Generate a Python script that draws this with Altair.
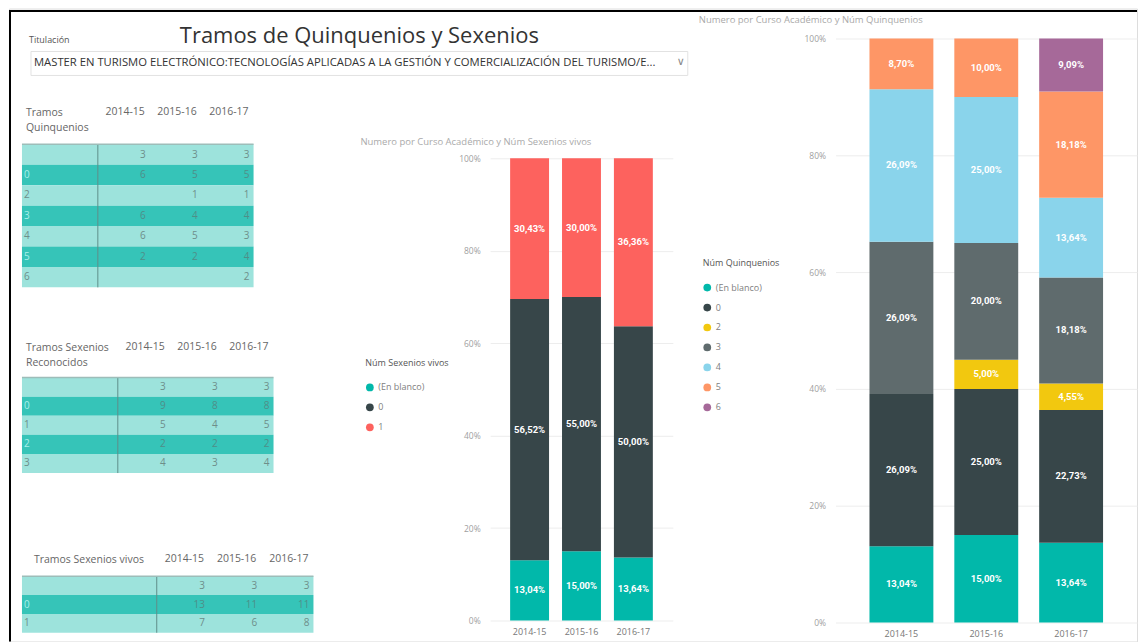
import altair as alt
import pandas as pd

years = ["2014-15", "2015-16", "2016-17"]

# Tramos Quinquenios (table + right chart)
quin_rows = ["", "0", "2", "3", "4", "5", "6"]
quin_legend = ["(En blanco)", "0", "2", "3", "4", "5", "6"]
quin_blank = [3, 3, 3]
quin_0 = [6, 5, 5]
quin_2 = [None, 1, 1]
quin_3 = [6, 4, 4]
quin_4 = [6, 5, 3]
quin_5 = [2, 2, 4]
quin_6 = [None, None, 2]
quin_series = [quin_blank, quin_0, quin_2, quin_3, quin_4, quin_5, quin_6]
quin_colors = ["#01B8AA", "#374649", "#F2C80F", "#5F6B6D", "#8AD4EB", "#FE9666", "#A66999"]

# Tramos Sexenios Reconocidos (table)
srec_rows = ["", "0", "1", "2", "3"]
srec_blank = [3, 3, 3]
srec_0 = [9, 8, 8]
srec_1 = [5, 4, 5]
srec_2 = [2, 2, 2]
srec_3 = [4, 3, 4]
srec_series = [srec_blank, srec_0, srec_1, srec_2, srec_3]

# Tramos Sexenios vivos (table + middle chart)
sviv_rows = ["", "0", "1"]
sviv_legend = ["(En blanco)", "0", "1"]
sviv_blank = [3, 3, 3]
sviv_0 = [13, 11, 11]
sviv_1 = [7, 6, 8]
sviv_series = [sviv_blank, sviv_0, sviv_1]
sviv_colors = ["#01B8AA", "#374649", "#FD625E"]

H = 634
W = 1130
FONT = "Open Sans"
LIGHT = "#9DE3DC"
DARK = "#36C4B8"


def label(text, x, y, size=10, color="#555555", align="left", weight="normal", font=FONT):
    return alt.Chart(pd.DataFrame({"t": [text]})).mark_text(
        align=align, baseline="middle", fontSize=size, color=color,
        fontWeight=weight, font=font
    ).encode(x=alt.value(x), y=alt.value(y), text="t:N")


def table(row_labels, series, left, sep, right, top, bottom, head_lines, head_x, head_y):
    n = len(row_labels)
    colw = (right - sep) / 3.0
    rows = pd.DataFrame({"r": list(range(n)), "lab": row_labels,
                         "stripe": [i % 2 for i in range(n)]})
    cells = pd.DataFrame([
        {"r": i, "year": yr, "v": str(v), "stripe": i % 2}
        for i, s in enumerate(series) for yr, v in zip(years, s) if v is not None
    ])
    yenc = alt.Y("r:O", scale=alt.Scale(type="band", domain=list(range(n)), range=[top, bottom],
                                         paddingInner=0, paddingOuter=0), axis=None)
    xenc = alt.X("year:N", scale=alt.Scale(type="band", domain=years, range=[sep, right],
                                            paddingInner=0, paddingOuter=0), axis=None)
    one = pd.DataFrame({"k": [0]})
    stripes = alt.Chart(rows).mark_rect().encode(
        y=yenc, x=alt.value(left), x2=alt.value(right),
        color=alt.condition("datum.stripe == 1", alt.value(DARK), alt.value(LIGHT)),
    )
    sepline = alt.Chart(one).mark_rule(color="#5F8F8A", strokeWidth=1).encode(
        x=alt.value(sep), y=alt.value(top), y2=alt.value(bottom))
    topline = alt.Chart(one).mark_rule(color="#9DBDB9", strokeWidth=1.5).encode(
        x=alt.value(left), x2=alt.value(right), y=alt.value(top))
    labs = alt.Chart(rows).mark_text(align="left", baseline="middle", fontSize=10, font=FONT).encode(
        y=yenc, x=alt.value(left + 2), text="lab:N",
        color=alt.condition("datum.stripe == 1", alt.value("#A9EFE9"), alt.value("#6E8E8A")),
    )
    vals = alt.Chart(cells).mark_text(align="right", baseline="middle", fontSize=10,
                                      dx=colw / 2 - 4, font=FONT).encode(
        y=yenc, x=xenc, text="v:N",
        color=alt.condition("datum.stripe == 1", alt.value("#4F8E88"), alt.value("#6E8E8A")),
    )
    heads = alt.Chart(pd.DataFrame({"year": years})).mark_text(
        align="right", baseline="middle", fontSize=10.5, dx=colw / 2 - 5, color="#666666", font=FONT
    ).encode(x=xenc, y=alt.value(head_y), text="year:N")
    rowhead = alt.Chart(one).mark_text(
        align="left", baseline="alphabetic", fontSize=10.5, lineHeight=15, color="#666666", font=FONT
    ).encode(x=alt.value(head_x), y=alt.value(head_y + 4), text=alt.value(head_lines))
    return [stripes, sepline, topline, labs, vals, heads, rowhead]


def bar_frame(cats, series):
    recs = []
    for k, (c, s) in enumerate(zip(cats, series)):
        for yr, v in zip(years, s):
            recs.append({"year": yr, "cat": c, "ord": k, "n": v or 0})
    return pd.DataFrame(recs)


def stacked(cats, series, colors, xr, yr, pi, po, legend_title, lx, ly):
    df = bar_frame(cats, series)
    base = alt.Chart(df).transform_filter("datum.n > 0").transform_joinaggregate(
        total="sum(n)", groupby=["year"]
    ).transform_calculate(pct="datum.n / datum.total").transform_stack(
        stack="pct", groupby=["year"], as_=["y0", "y1"],
        sort=[alt.SortField("ord", order="ascending")]
    ).transform_calculate(
        mid="(datum.y0 + datum.y1) / 2",
        lab="replace(format(datum.pct, '.2%'), '.', ',')",
    )
    xscale = alt.Scale(type="band", domain=years, range=xr, paddingInner=pi, paddingOuter=po)
    yscale = alt.Scale(domain=[0, 1], range=yr, nice=False, zero=True)
    bars = base.mark_bar().encode(
        x=alt.X("year:N", scale=xscale, title=None, axis=alt.Axis(
            orient="bottom", offset=yr[0] - H, domain=False, ticks=False, labelAngle=0,
            labelColor="#777777", labelFontSize=9, labelPadding=7, labelFont=FONT, zindex=2)),
        y=alt.Y("y0:Q", scale=yscale, title=None, axis=alt.Axis(
            orient="left", offset=-xr[0], format=".0%", values=[0, 0.2, 0.4, 0.6, 0.8, 1.0],
            grid=True, gridColor="#EDEDED", domain=False, ticks=False,
            labelColor="#A0A0A0", labelFontSize=8.5, labelPadding=10, labelFont=FONT)),
        y2="y1:Q",
        color=alt.Color("cat:N", sort=cats, scale=alt.Scale(domain=cats, range=colors),
                        legend=alt.Legend(
                            orient="none", legendX=lx, legendY=ly, title=legend_title,
                            titleFontSize=9, titleColor="#555555", titleFont=FONT,
                            titleFontWeight="normal", titlePadding=15,
                            labelFontSize=9, labelColor="#808080", labelFont=FONT,
                            symbolType="circle", symbolSize=60, rowPadding=10,
                            symbolStrokeWidth=0)),
    )
    texts = base.mark_text(color="white", fontWeight="bold", fontSize=9.5, font="Roboto",
                           align="center", baseline="middle").encode(
        x=alt.X("year:N", scale=xscale, axis=None),
        y=alt.Y("mid:Q", scale=yscale, axis=None),
        text="lab:N",
    )
    return [bars, texts]


one = pd.DataFrame({"k": [0]})
frame_top = alt.Chart(one).mark_rule(color="black", strokeWidth=2).encode(
    x=alt.value(0), x2=alt.value(W), y=alt.value(2.5))
frame_left = alt.Chart(one).mark_rule(color="black", strokeWidth=2).encode(
    x=alt.value(1), y=alt.value(2), y2=alt.value(H))
dropdown = alt.Chart(one).mark_rect(fill="white", stroke="#E2E2E2", strokeWidth=1).encode(
    x=alt.value(22), x2=alt.value(680), y=alt.value(43), y2=alt.value(67))

layers = [
    frame_top, frame_left, dropdown,
    label("Titulación", 20, 32, size=9, color="#555555"),
    label("Tramos de Quinquenios y Sexenios", 351, 27, size=22, color="#333333", align="center"),
    label("MASTER EN TURISMO ELECTRÓNICO:TECNOLOGÍAS APLICADAS A LA GESTIÓN Y COMERCIALIZACIÓN DEL TURISMO/E...",
          25, 55, size=11.3, color="#333333"),
    label("∨", 669, 54, size=11, color="#888888", font="DejaVu Sans"),
    label("Numero por Curso Académico y Núm Sexenios vivos", 352, 134, size=9.5, color="#AAAAAA"),
    label("Numero por Curso Académico y Núm Quinquenios", 691, 11, size=9.5, color="#AAAAAA"),
]
layers += table(quin_rows, quin_series, 13, 89, 245, 136, 279.3, ["Tramos", "Quinquenios"], 17, 104)
layers += table(srec_rows, srec_series, 13, 109, 265, 369.7, 465.3, ["Tramos Sexenios", "Reconocidos"], 17, 339)
layers += table(sviv_rows, sviv_series, 13, 148, 305, 568.7, 625.3, ["Tramos Sexenios vivos"], 25, 551)
layers += stacked(sviv_legend, sviv_series, sviv_colors, [482, 665], [613, 150], 0.25, 0.385,
                  "Núm Sexenios vivos", 357, 351)
layers += stacked(quin_legend, quin_series, quin_colors, [828, 1130], [615, 30], 0.247, 0.4,
                  "Núm Quinquenios", 695, 251)

chart = alt.layer(*layers).resolve_scale(
    x="independent", y="independent", color="independent"
).properties(width=W, height=H, padding=0).configure_view(stroke=None).configure(font=FONT)

chart.save("out.html", embed_options={"renderer": "svg", "actions": False})
